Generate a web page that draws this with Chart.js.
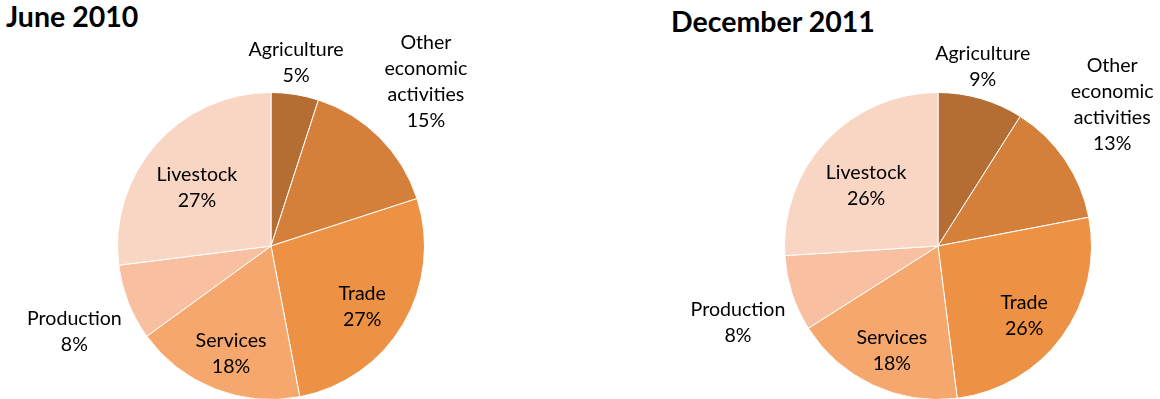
<!DOCTYPE html>
<html><head><meta charset="utf-8">
<script src="https://cdn.jsdelivr.net/npm/chart.js@4.4.0/dist/chart.umd.min.js"></script>
<style>
html,body{margin:0;padding:0;background:#fff;overflow:hidden;width:1160px;height:399px;position:relative;}
.t{position:absolute;font-family:Lato,sans-serif;font-weight:bold;font-size:28.5px;line-height:32px;color:#000;white-space:nowrap;}
canvas{position:absolute;top:0;}
</style></head><body>
<div class="t" id="t1" style="left:6px;top:0px"></div>
<div class="t" id="t2" style="left:671px;top:5px"></div>
<canvas id="c1" width="560" height="400" style="left:0px"></canvas>
<canvas id="c2" width="580" height="400" style="left:580px"></canvas>
<script>
// ---- data ----
const categories = ['Agriculture', 'Other economic activities', 'Trade', 'Services', 'Production', 'Livestock'];
const june2010 = [5, 15, 27, 18, 8, 27];
const dec2011 = [9, 13, 26, 18, 8, 26];
const titles = ['June 2010', 'December 2011'];

// ---- styles ----
const sliceColors = ['#B46E33', '#D4803A', '#ED9145', '#F6A76D', '#F8BFA0', '#F9D5C3'];
const labelFont = '19.6px Lato, sans-serif';
const lineH = 26;

function wrap(ctx, text, maxW) {
  const words = text.split(' ');
  const out = [];
  let cur = '';
  words.forEach(w => {
    const test = cur ? cur + ' ' + w : w;
    if (cur && ctx.measureText(test).width > maxW) { out.push(cur); cur = w; }
    else cur = test;
  });
  if (cur) out.push(cur);
  return out;
}

function clamp(v, a, b) { return Math.max(a, Math.min(b, v)); }

const sliceLabels = {
  id: 'sliceLabels',
  afterDatasetsDraw(chart) {
    const ctx = chart.ctx;
    const meta = chart.getDatasetMeta(0);
    const vals = chart.data.datasets[0].data;
    ctx.save();
    ctx.font = labelFont;
    ctx.fillStyle = '#000';
    ctx.textAlign = 'center';
    ctx.textBaseline = 'middle';
    meta.data.forEach((arc, i) => {
      const p = arc.getProps(['x', 'y', 'startAngle', 'endAngle', 'outerRadius'], true);
      const mid = (p.startAngle + p.endAngle) / 2;
      const ux = Math.cos(mid), uy = Math.sin(mid);
      const lines = wrap(ctx, chart.data.labels[i], 100).concat([vals[i] + '%']);
      const h = lines.length * lineH;
      const w = Math.max(...lines.map(l => ctx.measureText(l).width));
      let cx, cy;
      if (vals[i] >= 16) {
        const d = p.outerRadius * (0.67 + 0.04 * uy);
        cx = p.x + ux * d;
        cy = p.y + uy * d + 6;
      } else {
        const d = p.outerRadius + 7;
        const ax = p.x + ux * d, ay = p.y + uy * d;
        const sx = Math.sign(ux) * clamp((Math.abs(ux) - 0.3) / 0.4, 0, 1);
        cx = ax + sx * w / 2;
        cy = ay + Math.sign(uy) * h / 2;
      }
      lines.forEach((l, k) => ctx.fillText(l, cx, cy - h / 2 + lineH * (k + 0.5) + 1));
    });
    ctx.restore();
  }
};

function makePie(id, values, padding) {
  return new Chart(document.getElementById(id), {
    type: 'pie',
    data: {
      labels: categories,
      datasets: [{ data: values, backgroundColor: sliceColors, borderColor: '#ffffff', borderWidth: 1 }]
    },
    options: {
      responsive: false,
      animation: false,
      layout: { padding: padding },
      plugins: { legend: { display: false }, tooltip: { enabled: false }, title: { display: false } }
    },
    plugins: [sliceLabels]
  });
}

document.getElementById('t1').textContent = titles[0];
document.getElementById('t2').textContent = titles[1];
makePie('c1', june2010, { top: 92, bottom: 0, left: 0, right: 18 });
makePie('c2', dec2011, { top: 92, bottom: 0, left: 136, right: 0 });
</script>
</body></html>
